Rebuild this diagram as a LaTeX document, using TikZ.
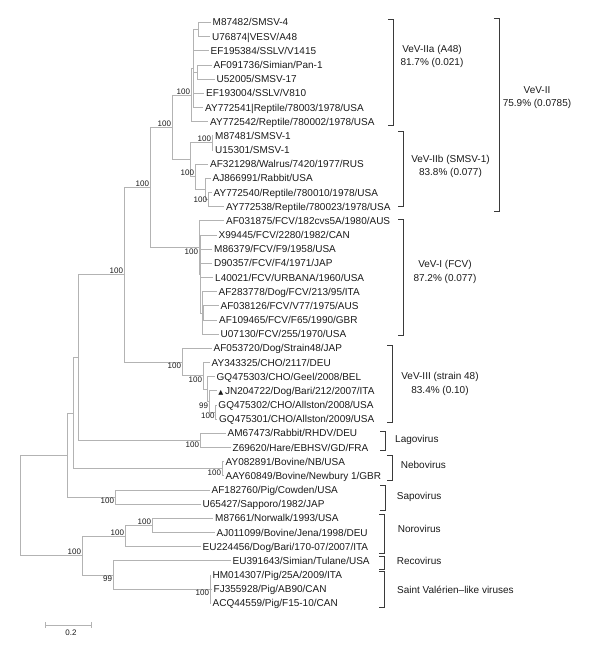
\documentclass[tikz,border=0pt]{standalone}
\usepackage{fontspec}
\setmainfont{Liberation Sans}
\newfontfamily\trifont{DejaVu Sans}
\usepackage{tikz}
\usetikzlibrary{calc}
\definecolor{Branch}{HTML}{B3B3B3}
\definecolor{Bracket}{HTML}{3A3A3A}
\definecolor{Ink}{HTML}{1A1A1A}

\begin{document}
\begin{tikzpicture}[
  x=1pt,y=-14.17pt,
  font=\fontsize{10}{13.3}\selectfont,
  leaf/.style={anchor=west,inner xsep=1.5pt,inner ysep=0pt,
    text height=8pt,text depth=1pt,text=Ink},
  branch/.style={draw=Branch,line width=0.9pt},
  boot/.style={font=\fontsize{8}{8}\selectfont,inner sep=0.8pt,text=Ink},
  bracket/.style={draw=Bracket,line width=1pt},
  clade/.style={align=center,inner sep=0pt,text=Ink},
  genus/.style={anchor=west,inner sep=0pt,text height=8pt,text depth=1pt,text=Ink}
]
\useasboundingbox (0,-0.588) rectangle (600,45.215);

% Leaves, one per row.
\foreach \n/\x/\t [count=\r] in {
  M87482/211/{M87482/SMSV-4},
  U76874/210.5/{U76874|VESV/A48},
  EF195384/209/{EF195384/SSLV/V1415},
  AF091736/212/{AF091736/Simian/Pan-1},
  U52005/215/{U52005/SMSV-17},
  EF193004/204.5/{EF193004/SSLV/V810},
  AY772541/203.5/{AY772541|Reptile/78003/1978/USA},
  AY772542/208.5/{AY772542/Reptile/780002/1978/USA},
  M87481/213.5/{M87481/SMSV-1},
  U15301/213.5/{U15301/SMSV-1},
  AF321298/208.5/{AF321298/Walrus/7420/1977/RUS},
  AJ866991/211/{AJ866991/Rabbit/USA},
  AY772540/212/{AY772540/Reptile/780010/1978/USA},
  AY772538/224.5/{AY772538/Reptile/780023/1978/USA},
  AF031875/224.5/{AF031875/FCV/182cvs5A/1980/AUS},
  X99445/217/{X99445/FCV/2280/1982/CAN},
  M86379/212.5/{M86379/FCV/F9/1958/USA},
  D90357/212.5/{D90357/FCV/F4/1971/JAP},
  L40021/213.5/{L40021/FCV/URBANA/1960/USA},
  AF283778/217/{AF283778/Dog/FCV/213/95/ITA},
  AF038126/219/{AF038126/FCV/V77/1975/AUS},
  AF109465/217.5/{AF109465/FCV/F65/1990/GBR},
  U07130/219/{U07130/FCV/255/1970/USA},
  AF053720/212/{AF053720/Dog/Strain48/JAP},
  AY343325/210/{AY343325/CHO/2117/DEU},
  GQ475303/215/{GQ475303/CHO/Geel/2008/BEL},
  JN204722/216.8/{{\fontsize{6.5}{6.5}\trifont ▲}\hspace{1.6pt}JN204722/Dog/Bari/212/2007/ITA},
  GQ475302/216.8/{GQ475302/CHO/Allston/2008/USA},
  GQ475301/217.5/{GQ475301/CHO/Allston/2009/USA},
  AM67473/226/{AM67473/Rabbit/RHDV/DEU},
  Z69620/231/{Z69620/Hare/EBHSV/GD/FRA},
  AY082891/224/{AY082891/Bovine/NB/USA},
  AAY60849/224/{AAY60849/Bovine/Newbury 1/GBR},
  AF182760/210/{AF182760/Pig/Cowden/USA},
  U65427/201/{U65427/Sapporo/1982/JAP},
  M87661/213.5/{M87661/Norwalk/1993/USA},
  AJ011099/215/{AJ011099/Bovine/Jena/1998/DEU},
  EU224456/201/{EU224456/Dog/Bari/170-07/2007/ITA},
  EU391643/231/{EU391643/Simian/Tulane/USA},
  HM014307/211/{HM014307/Pig/25A/2009/ITA},
  FJ355928/212/{FJ355928/Pig/AB90/CAN},
  ACQ44559/211/{ACQ44559/Pig/F15-10/CAN}}
  \node[leaf] (\n) at (\x,\r) {\t};

% Internal nodes.
\coordinate (root) at (20,35.08);
\coordinate (upA) at (67,31.54);
\coordinate (upB) at (73,28.58);
\coordinate (upC) at (78,24.65);
\coordinate (vesi) at (124,18.8);
\coordinate (vesiVI) at (150,12.64);
\coordinate (vevII) at (172,8.406);
\coordinate (vevIIa) at (191,6.125);
\coordinate (vevIIaX) at (193,4.25);
\coordinate (vevIIaA) at (198,1.5);
\coordinate (vevIIaB) at (197,4.5);
\coordinate (vevIIb) at (190,10.6875);
\coordinate (vevIIbA) at (212,9.5);
\coordinate (vevIIbB) at (195,11.875);
\coordinate (vevIIbC) at (205,12.75);
\coordinate (vevIIbD) at (208,13.5);
\coordinate (vevI) at (199,16.875);
\coordinate (vevIa) at (200.5,18.75);
\coordinate (vevIb) at (202.5,21.5);
\coordinate (vevIc) at (203.5,21.5);
\coordinate (vevIII) at (182,24.97);
\coordinate (vevIIIa) at (203,25.9375);
\coordinate (vevIIIb) at (207,26.875);
\coordinate (vevIIIc) at (209,27.75);
\coordinate (vevIIId) at (215.5,28.5);
\coordinate (lago) at (200,30.5);
\coordinate (nebo) at (222,32.5);
\coordinate (sapo) at (115,34.5);
\coordinate (lowL) at (82,38.625);
\coordinate (noro) at (125,37.25);
\coordinate (norosub) at (152,36.5);
\coordinate (reco) at (113,40);
\coordinate (stv) at (210,41);

% Branches.
\foreach \p/\c in {root/upA,root/lowL,upA/upB,upA/sapo,upB/upC,upB/nebo,
  upC/vesi,upC/lago,vesi/vesiVI,vesi/vevIII,vesiVI/vevII,vesiVI/vevI,
  vevII/vevIIa,vevII/vevIIb,vevIIa/vevIIaX,vevIIa/AY772542,
  vevIIaX/vevIIaA,vevIIaX/EF195384,vevIIaX/vevIIaB,vevIIaX/EF193004,
  vevIIaX/AY772541,vevIIaA/M87482,vevIIaA/U76874,vevIIaB/AF091736,
  vevIIaB/U52005,vevIIb/vevIIbA,vevIIb/vevIIbB,vevIIbA/M87481,
  vevIIbA/U15301,vevIIbB/AF321298,vevIIbB/vevIIbC,vevIIbC/AJ866991,
  vevIIbC/vevIIbD,vevIIbD/AY772540,vevIIbD/AY772538,
  vevI/AF031875,vevI/vevIa,vevIa/X99445,vevIa/M86379,vevIa/D90357,
  vevIa/L40021,vevIa/vevIb,vevIb/AF283778,vevIb/vevIc,vevIb/U07130,
  vevIc/AF038126,vevIc/AF109465,
  vevIII/AF053720,vevIII/vevIIIa,vevIIIa/AY343325,vevIIIa/vevIIIb,
  vevIIIb/GQ475303,vevIIIb/vevIIIc,vevIIIc/JN204722,vevIIIc/vevIIId,
  vevIIId/GQ475302,vevIIId/GQ475301,
  lago/AM67473,lago/Z69620,nebo/AY082891,nebo/AAY60849,
  sapo/AF182760,sapo/U65427,lowL/noro,lowL/reco,noro/norosub,
  noro/EU224456,norosub/M87661,norosub/AJ011099,reco/EU391643,reco/stv,
  stv/HM014307,stv/FJ355928,stv/ACQ44559}
  \draw[branch] (\p) |- (\c);

% Bootstrap values.
\foreach \n/\a/\v in {vesi/south east/100,vesiVI/south east/100,
  vevII/south east/100,vevIIa/south east/100,vevIIbA/south east/100,
  vevIIbB/south east/100,vevIIbD/east/100,vevI/north east/100,
  vevIII/north east/100,vevIIIa/north east/100,vevIIIc/north east/99,
  vevIIId/north east/100,lago/north east/100,nebo/north east/100,
  sapo/north east/100,norosub/south east/100,noro/south east/100,
  lowL/south east/100,reco/north east/99,stv/north east/100}
  \node[boot,anchor=\a] (b\n) at (\n) {\v};

% Clade brackets.
\foreach \x/\t/\b in {393.3/0.82/8.30,499.3/0.75/14.35,404/8.71/14.0,
  404/14.87/23.1,392.7/23.81/29.24,386/29.88/31.22,392.3/31.57/33.34,
  386/33.69/35.45,385/35.69/38.46,385/38.70/39.59,385/39.76/42.3}
  \draw[bracket] (\x-5.5,\t) -- (\x,\t) -- (\x,\b) -- (\x-5.5,\b);

\node[clade] (labIIa) at (432,3.41) {VeV-IIa (A48)\\81.7\% (0.021)};
\node[clade] (labII) at (537,6.29) {VeV-II\\75.9\% (0.0785)};
\node[clade] (labIIb) at (450.5,11.18) {VeV-IIb (SMSV-1)\\83.8\% (0.077)};
\node[clade] (labI) at (445,18.61) {VeV-I (FCV)\\87.2\% (0.077)};
\node[clade] (labIII) at (440,26.5) {VeV-III (strain 48)\\83.4\% (0.10)};
\node[genus] (labLago) at (395,30.41) {Lagovirus};
\node[genus] (labNebo) at (400.7,32.23) {Nebovirus};
\node[genus] (labSapo) at (396.7,34.41) {Sapovirus};
\node[genus] (labNoro) at (397.7,36.77) {Norovirus};
\node[genus] (labReco) at (396.7,38.98) {Recovirus};
\node[genus] (labStv) at (397,41.05) {Saint Valérien–like viruses};

% Scale bar.
\coordinate (sbL) at (45,43.52);
\coordinate (sbR) at (91,43.52);
\draw[branch] (sbL) -- (sbR);
\draw[branch] ($(sbL)+(0,-0.2)$) -- ($(sbL)+(0,0.2)$);
\draw[branch] ($(sbR)+(0,-0.2)$) -- ($(sbR)+(0,0.2)$);
\node[boot] (sbLab) at (71,44.1) {0.2};
\end{tikzpicture}
\end{document}
